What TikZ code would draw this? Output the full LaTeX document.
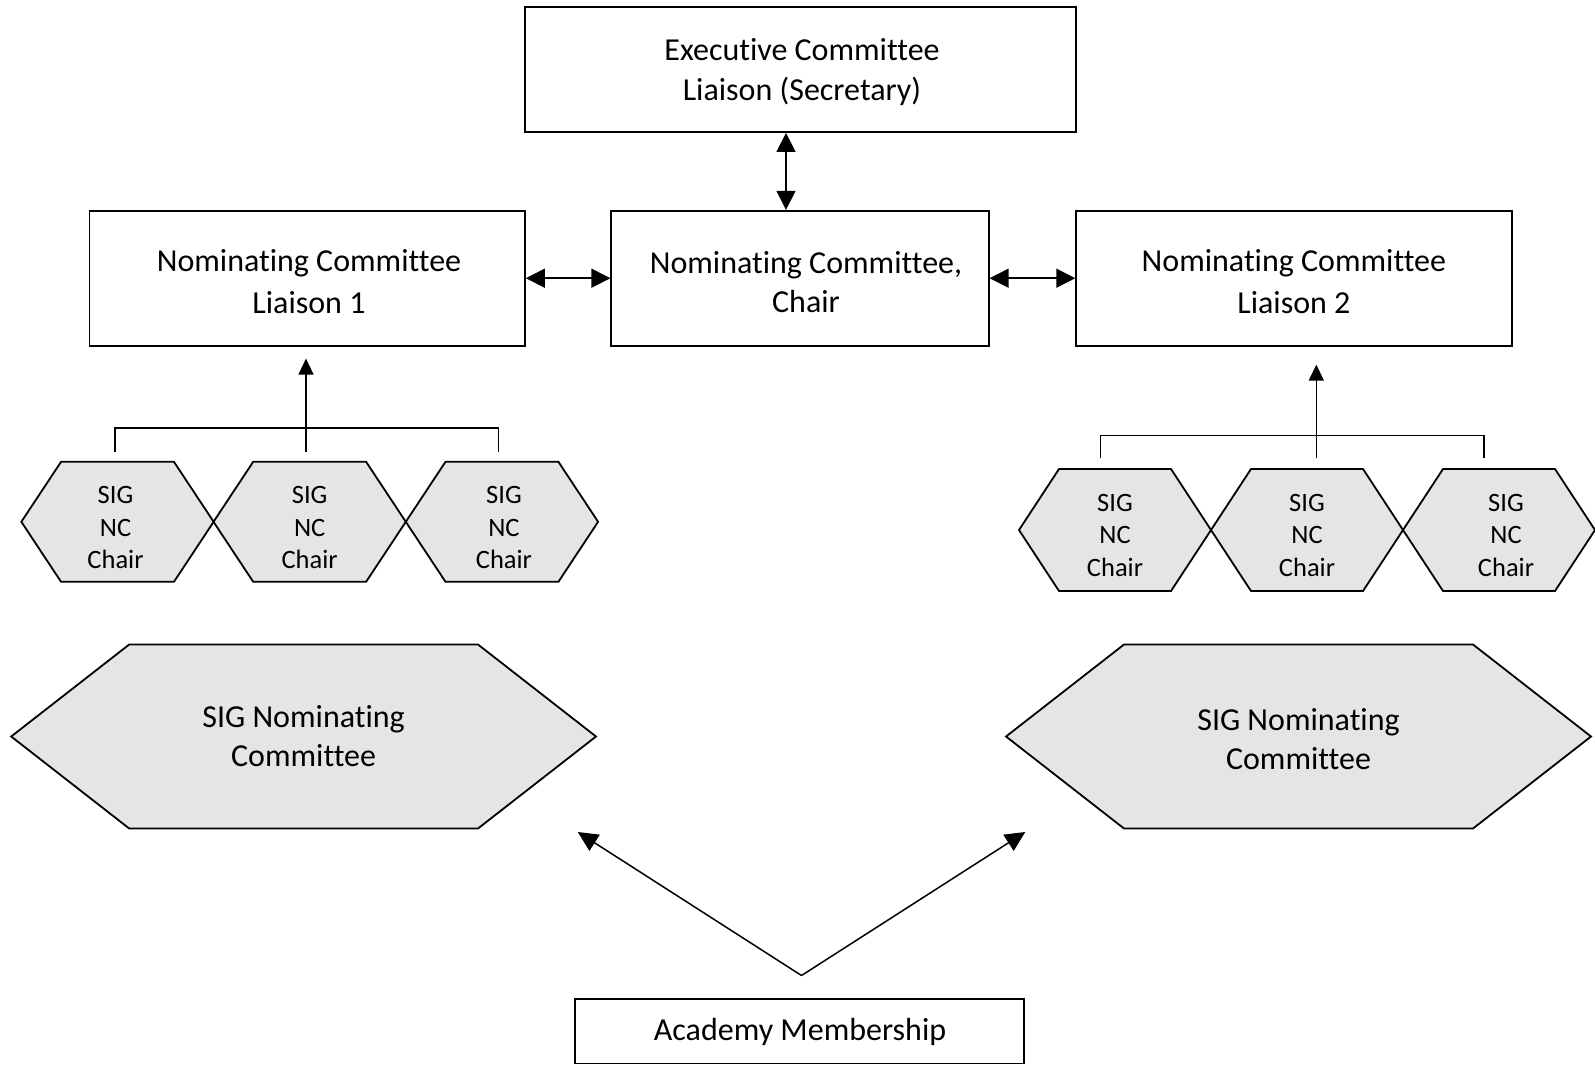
\documentclass[tikz,border=0pt]{standalone}
\usepackage{fontspec}
\setmainfont{Carlito}[Ligatures=NoCommon]
\usetikzlibrary{arrows.meta,calc}
\newcommand\myhex[8]{%
  \draw[hexfill] (#2-#4,#3) -- (#2-#4+#6,#3-#5) -- (#2+#4-#6,#3-#5) -- (#2+#4,#3)
    -- (#2+#4-#6,#3+#5) -- (#2-#4+#6,#3+#5) -- cycle;
  \node[#7] (#1) at (#2,#3) {#8};
}
\begin{document}
\begin{tikzpicture}[x=1pt,y=-1pt,
  box/.style={draw,line width=1.8pt,align=center,inner sep=0pt,font=\fontsize{32}{40}\selectfont},
  boxtext/.style={inner sep=0pt,align=center,font=\fontsize{32}{40}\selectfont},
  conn/.style={line width=1.5pt},
  dbl/.style={conn,{Triangle[length=19pt,width=19pt]}-{Triangle[length=19pt,width=19pt]}},
  uparrow/.style={conn,-{Triangle[length=16pt,width=15pt]}},
  vtip/.style={conn,-{Triangle[length=20pt,width=19pt]}},
  hexfill/.style={draw,line width=1.8pt,fill=gray!20,line join=miter},
  smalltext/.style={align=center,inner sep=0pt,font=\fontsize{26.5}{32.5}\selectfont},
  bigtext/.style={align=center,inner sep=0pt,font=\fontsize{32}{39}\selectfont}]
\useasboundingbox (0,0) rectangle (1595,1065);

% boxes
\node[box,minimum width=551pt,minimum height=125pt] (exec) at (800.5,69.5) {};
\node[boxtext] (exect) at (802,72.5) {Executive Committee\\Liaison (Secretary)};
\node[box,minimum width=435.5pt,minimum height=135pt] (l1) at (307.2,278.2) {};
\node[boxtext,font=\fontsize{32}{41.5}\selectfont] (l1t) at (309,281.5) {Nominating Committee\\Liaison 1};
\node[box,minimum width=377.4pt,minimum height=135pt] (chair) at (800,278.2) {};
\node[boxtext,font=\fontsize{32}{39}\selectfont] (chairt) at (806,282) {Nominating Committee,\\Chair};
\node[box,minimum width=435.4pt,minimum height=135pt] (l2) at (1293.9,278.2) {};
\node[boxtext,font=\fontsize{32}{41.5}\selectfont] (l2t) at (1293.9,281.5) {Nominating Committee\\Liaison 2};
\node[box,minimum width=449.6pt,minimum height=64.6pt] (acad) at (799.5,1031.2) {};
\node[boxtext] (acadt) at (800,1031.5) {Academy Membership};

% arrows between top boxes
\draw[dbl] ($(exec.south)+(-14.5,0)$) -- ($(chair.north)+(-14,0)$);
\draw[dbl] (l1.east) -- (chair.west);
\draw[dbl] (chair.east) -- (l2.west);

% small hexagons left
\myhex{a1}{117.5}{521.8}{96.15}{60}{39.7}{smalltext,yshift=-6pt,xshift=-2pt}{SIG\\NC\\Chair}
\myhex{a2}{309.65}{521.8}{96.15}{60}{39.7}{smalltext,yshift=-6pt}{SIG\\NC\\Chair}
\myhex{a3}{501.95}{521.8}{96.15}{60}{39.7}{smalltext,yshift=-6pt,xshift=2pt}{SIG\\NC\\Chair}

% small hexagons right
\myhex{b1}{1115}{530}{96}{61}{40}{smalltext,yshift=-5pt}{SIG\\NC\\Chair}
\myhex{b2}{1307}{530}{96}{61}{40}{smalltext,yshift=-5pt}{SIG\\NC\\Chair}
\myhex{b3}{1499}{530}{96}{61}{40}{smalltext,yshift=-5pt,xshift=7pt}{SIG\\NC\\Chair}

% brackets left
\coordinate (la1) at (115,451.6);
\coordinate (la2) at (306,451.6);
\coordinate (la3) at (498.5,451.6);
\draw[conn] (la1) -- (115,428.2) -- (498.5,428.2) -- (la3);
\draw[uparrow,shorten >=12pt] (la2) -- (la2 |- l1.south);

% brackets right
\coordinate (lb1) at (1100.6,457.7);
\coordinate (lb2) at (1316.3,457.7);
\coordinate (lb3) at (1484,457.7);
\draw[conn] (lb1) -- (1100.6,435.4) -- (1484,435.4) -- (lb3);
\draw[uparrow,shorten >=18pt] (lb2) -- (lb2 |- l2.south);

% big hexagons
\myhex{s1}{303.6}{736.5}{292.4}{92}{118}{bigtext}{SIG Nominating\\Committee}
\myhex{s2}{1298.5}{736.5}{292.5}{92}{118}{bigtext,yshift=-3pt}{SIG Nominating\\Committee}

% academy arrows
\coordinate (apex) at ($(acad.north)+(2,-22.5)$);
\coordinate (tipL) at (577.8,832);
\coordinate (tipR) at (1025.3,832);
\draw[vtip] (apex) -- (tipL);
\draw[vtip] (apex) -- (tipR);
\end{tikzpicture}
\end{document}
